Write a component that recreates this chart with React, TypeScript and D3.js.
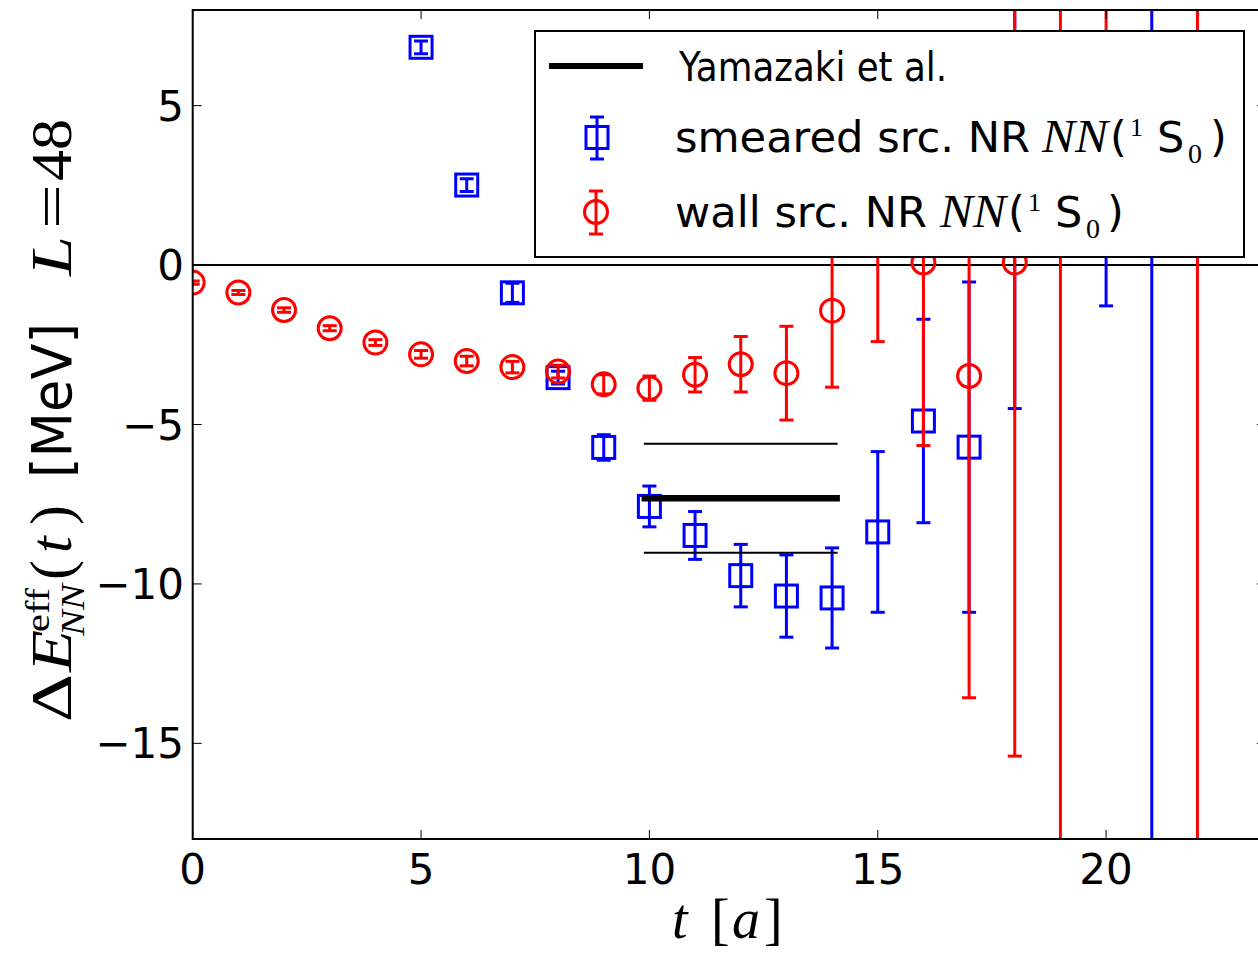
import React from 'react';
import * as d3 from 'd3';

const W = 1258;
const H = 953;

// smeared source (blue squares)
const smearedT = [5, 6, 7, 8, 9, 10, 11, 12, 13, 14, 15, 16, 17, 18, 20, 21];
const smearedE = [6.83, 2.51, -0.87, -3.53, -5.72, -7.57, -8.48, -9.74, -10.38, -10.44, -8.37, -4.89, -5.71, 2.0, 2.5, 3.0];
const smearedErr = [0.2, 0.2, 0.3, 0.2, 0.4, 0.64, 0.75, 0.98, 1.29, 1.57, 2.52, 3.19, 5.18, 6.5, 3.78, 25];

// wall source (red circles)
const wallT = [0, 1, 2, 3, 4, 5, 6, 7, 8, 9, 10, 11, 12, 13, 14, 15, 16, 17, 18, 19, 20, 22];
const wallE = [-0.55, -0.86, -1.41, -1.98, -2.43, -2.8, -3.01, -3.2, -3.34, -3.74, -3.86, -3.44, -3.11, -3.39, -1.43, 0.8, 0.08, -3.48, 0.08, 4.0, 6.0, 4.0];
const wallErr = [0.05, 0.06, 0.07, 0.08, 0.09, 0.12, 0.15, 0.18, 0.2, 0.3, 0.38, 0.54, 0.87, 1.47, 2.4, 3.2, 5.74, 10.09, 15.48, 30, 2.5, 30];

// Yamazaki et al. band
const yamazakiT = [9.9, 14.1];
const yamazakiE = -7.31;
const yamazakiErr = 1.71;

const xTicks = [0, 5, 10, 15, 20];
const yTicks = [-15, -10, -5, 0, 5];
const xDomain = [0, 23.5];
const yDomain = [-18, 8];

const BLUE = '#0000ff';
const RED = '#ff0000';

const SANS = "'DejaVu Sans', sans-serif";
const SERIF = "'Liberation Serif', 'DejaVu Serif', serif";

const left = 192.7;
const top = 10;
const bottom = 839;
const right = left + 23.5 * 45.67;

const x = d3.scaleLinear().domain(xDomain).range([left, right]);
const y = d3.scaleLinear().domain(yDomain).range([bottom, top]);

const fmt = (v: number) => (v < 0 ? '\u2212' + Math.abs(v) : String(v));

function ErrorPoint({ cx, cy, ylo, yhi, color, shape }: any) {
  const cap = 7;
  return (
    <g>
      <line x1={cx} x2={cx} y1={ylo} y2={yhi} stroke={color} strokeWidth={3} />
      <line x1={cx - cap} x2={cx + cap} y1={ylo} y2={ylo} stroke={color} strokeWidth={3} />
      <line x1={cx - cap} x2={cx + cap} y1={yhi} y2={yhi} stroke={color} strokeWidth={3} />
      {shape === 'square' ? (
        <rect x={cx - 11} y={cy - 11} width={22} height={22} fill="none" stroke={color} strokeWidth={3} />
      ) : (
        <circle cx={cx} cy={cy} r={11.5} fill="none" stroke={color} strokeWidth={3} />
      )}
    </g>
  );
}

export default function App() {
  const yamX1 = x(yamazakiT[0]);
  const yamX2 = x(yamazakiT[1]);
  return (
    <svg
      width={W}
      height={H}
      viewBox={`0 0 ${W} ${H}`}
      style={{ position: 'absolute', left: 0, top: 0, background: '#fff' }}
    >
      <defs>
        <clipPath id="plotclip">
          <rect x={left} y={top} width={right - left} height={bottom - top} />
        </clipPath>
      </defs>
      <rect x={0} y={0} width={W} height={H} fill="#fff" />

      <g clipPath="url(#plotclip)">
        {/* zero line */}
        <line x1={left} x2={right} y1={y(0)} y2={y(0)} stroke="#000" strokeWidth={2} />
        {smearedT.map((t, i) => (
          <ErrorPoint
            key={'s' + i}
            cx={x(t)}
            cy={y(smearedE[i])}
            ylo={y(smearedE[i] - smearedErr[i])}
            yhi={y(smearedE[i] + smearedErr[i])}
            color={BLUE}
            shape="square"
          />
        ))}
        {wallT.map((t, i) => (
          <ErrorPoint
            key={'w' + i}
            cx={x(t)}
            cy={y(wallE[i])}
            ylo={y(wallE[i] - wallErr[i])}
            yhi={y(wallE[i] + wallErr[i])}
            color={RED}
            shape="circle"
          />
        ))}
        {/* Yamazaki et al. */}
        <line x1={yamX1} x2={yamX2} y1={y(yamazakiE)} y2={y(yamazakiE)} stroke="#000" strokeWidth={6.5} strokeLinecap="square" />
        <line x1={yamX1} x2={yamX2} y1={y(yamazakiE + yamazakiErr)} y2={y(yamazakiE + yamazakiErr)} stroke="#000" strokeWidth={2} strokeLinecap="square" />
        <line x1={yamX1} x2={yamX2} y1={y(yamazakiE - yamazakiErr)} y2={y(yamazakiE - yamazakiErr)} stroke="#000" strokeWidth={2} strokeLinecap="square" />
      </g>

      {/* ticks */}
      {xTicks.map((t) => (
        <g key={'xt' + t}>
          <line x1={x(t)} x2={x(t)} y1={bottom} y2={bottom - 9} stroke="#000" strokeWidth={1} />
          <line x1={x(t)} x2={x(t)} y1={top} y2={top + 9} stroke="#000" strokeWidth={1} />
          <text x={x(t)} y={884} textAnchor="middle" fontFamily={SANS} fontSize={42} fill="#000">
            {fmt(t)}
          </text>
        </g>
      ))}
      {yTicks.map((v) => (
        <g key={'yt' + v}>
          <line x1={left} x2={left + 9} y1={y(v)} y2={y(v)} stroke="#000" strokeWidth={1} />
          <line x1={right} x2={right - 9} y1={y(v)} y2={y(v)} stroke="#000" strokeWidth={1} />
          <text x={184} y={y(v) + 15} textAnchor="end" fontFamily={SANS} fontSize={42} fill="#000">
            {fmt(v)}
          </text>
        </g>
      ))}

      {/* spines */}
      <rect x={left} y={top} width={right - left} height={bottom - top} fill="none" stroke="#000" strokeWidth={2} />

      {/* legend */}
      <g>
        <rect x={535} y={31} width={709} height={226} fill="#fff" stroke="#000" strokeWidth={2} />
        <line x1={549} x2={643} y1={66} y2={66} stroke="#000" strokeWidth={6} />
        <text x={679} y={81} fontFamily={SANS} fontSize={41} textLength={268} lengthAdjust="spacingAndGlyphs">
          Yamazaki et al.
        </text>

        <ErrorPoint cx={597} cy={137.5} ylo={159} yhi={117} color={BLUE} shape="square" />
        <text x={675} y={152} fontFamily={SANS} fontSize={43} textLength={355} lengthAdjust="spacingAndGlyphs">
          smeared src. NR
        </text>
        <text x={1042} y={152} fontFamily={SERIF} fontStyle="italic" fontSize={46} textLength={66} lengthAdjust="spacingAndGlyphs">
          NN
        </text>
        <text x={1110} y={152} fontFamily={SANS} fontSize={43}>(</text>
        <text x={1130} y={136} fontFamily={SERIF} fontSize={26}>1</text>
        <text x={1157} y={152} fontFamily={SANS} fontSize={43}>S</text>
        <text x={1188} y={163} fontFamily={SERIF} fontSize={28}>0</text>
        <text x={1210} y={152} fontFamily={SANS} fontSize={43}>)</text>

        <ErrorPoint cx={596} cy={212} ylo={234} yhi={191} color={RED} shape="circle" />
        <text x={675} y={227} fontFamily={SANS} fontSize={43} textLength={252} lengthAdjust="spacingAndGlyphs">
          wall src. NR
        </text>
        <text x={940} y={227} fontFamily={SERIF} fontStyle="italic" fontSize={46} textLength={66} lengthAdjust="spacingAndGlyphs">
          NN
        </text>
        <text x={1008} y={227} fontFamily={SANS} fontSize={43}>(</text>
        <text x={1028} y={211} fontFamily={SERIF} fontSize={26}>1</text>
        <text x={1055} y={227} fontFamily={SANS} fontSize={43}>S</text>
        <text x={1086} y={238} fontFamily={SERIF} fontSize={28}>0</text>
        <text x={1107} y={227} fontFamily={SANS} fontSize={43}>)</text>
      </g>

      {/* x label */}
      <g fontFamily={SERIF} fontSize={56} fill="#000">
        <text x={672} y={938} fontStyle="italic">t</text>
        <text x={711} y={938}>[</text>
        <text x={732} y={938} fontStyle="italic">a</text>
        <text x={764} y={938}>]</text>
      </g>

      {/* y label (rotated); local x = -screenY */}
      <g transform="translate(71,0) rotate(-90)" fill="#000">
        <text x={-722} y={0} fontFamily={SERIF} fontSize={58} textLength={48} lengthAdjust="spacingAndGlyphs">Δ</text>
        <text x={-672} y={0} fontFamily={SERIF} fontStyle="italic" fontSize={58} textLength={42} lengthAdjust="spacingAndGlyphs">E</text>
        <text x={-632} y={-22} fontFamily={SERIF} fontSize={34} textLength={44} lengthAdjust="spacingAndGlyphs">eff</text>
        <text x={-636} y={13} fontFamily={SERIF} fontStyle="italic" fontSize={34} textLength={52} lengthAdjust="spacingAndGlyphs">NN</text>
        <text x={-580} y={0} fontFamily={SERIF} fontSize={60}>(</text>
        <text x={-553} y={0} fontFamily={SERIF} fontStyle="italic" fontSize={60}>t</text>
        <text x={-525} y={0} fontFamily={SERIF} fontSize={60}>)</text>
        <text x={-478} y={0} fontFamily={SANS} fontSize={56} textLength={155} lengthAdjust="spacingAndGlyphs">[MeV]</text>
        <text x={-276} y={0} fontFamily={SERIF} fontStyle="italic" fontSize={58} textLength={40} lengthAdjust="spacingAndGlyphs">L</text>
        <text x={-229} y={0} fontFamily={SERIF} fontSize={58} textLength={45} lengthAdjust="spacingAndGlyphs">=</text>
        <text x={-181} y={0} fontFamily={SERIF} fontSize={58} textLength={62} lengthAdjust="spacingAndGlyphs">48</text>
      </g>
    </svg>
  );
}
